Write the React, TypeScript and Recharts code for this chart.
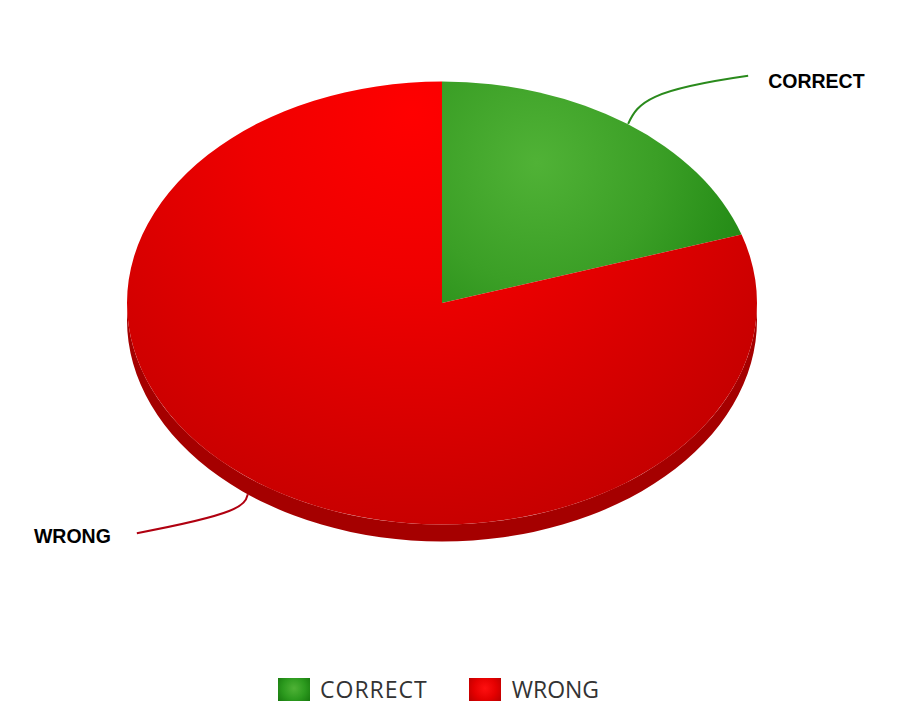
import React from 'react';
import { PieChart, Pie, Legend } from 'recharts';

const categories = ['CORRECT', 'WRONG'];
const values = [20, 80];
const data = categories.map((name, i) => ({ name, value: values[i] }));

const W = 903;
const H = 715;
const CX = 442;
const CY = 303;
const R = 315;
const RATIO = 0.703;
const DEPTH = 17;

const rad = Math.PI / 180;
const pt = (cx: number, cy: number, rx: number, ry: number, a: number) => ({
  x: cx + rx * Math.cos(a * rad),
  y: cy - ry * Math.sin(a * rad),
});

function gradFor(name: string, cx: number, cy: number) {
  if (name === 'CORRECT') {
    return (
      <radialGradient id="g-correct" gradientUnits="userSpaceOnUse" cx={cx + 95} cy={cy - 140} r={240}>
        <stop offset="0" stopColor="#50b236" />
        <stop offset="0.5" stopColor="#3b9f26" />
        <stop offset="1" stopColor="#1e8612" />
      </radialGradient>
    );
  }
  return (
    <radialGradient id="g-wrong" gradientUnits="userSpaceOnUse" cx={cx - 30} cy={cy - 190} r={470}>
      <stop offset="0" stopColor="#ff0000" />
      <stop offset="0.35" stopColor="#ef0000" />
      <stop offset="0.75" stopColor="#d20000" />
      <stop offset="1" stopColor="#bf0000" />
    </radialGradient>
  );
}

const EllipseSector = (props: any) => {
  const { cx, cy, outerRadius, startAngle, endAngle, name, payload } = props;
  const nm = name ?? payload?.name;
  const rx = outerRadius;
  const ry = outerRadius * RATIO;
  const s = startAngle;
  const e = endAngle;
  const p1 = pt(cx, cy, rx, ry, s);
  const p2 = pt(cx, cy, rx, ry, e);
  const large = Math.abs(s - e) > 180 ? 1 : 0;
  const sweep = s > e ? 1 : 0;
  const top = `M${cx},${cy} L${p1.x},${p1.y} A${rx},${ry} 0 ${large} ${sweep} ${p2.x},${p2.y} Z`;
  const lo = Math.min(s, e);
  const hi = Math.max(s, e);
  const rims: string[] = [];
  for (let k = -2; k <= 2; k++) {
    const a0 = Math.max(lo, -180 + 360 * k);
    const a1 = Math.min(hi, 360 * k);
    if (a1 - a0 > 0.01) {
      const q1 = pt(cx, cy, rx, ry, a1);
      const q0 = pt(cx, cy, rx, ry, a0);
      rims.push(
        `M${q1.x},${q1.y} A${rx},${ry} 0 0 1 ${q0.x},${q0.y} L${q0.x},${q0.y + DEPTH} A${rx},${ry} 0 0 0 ${q1.x},${q1.y + DEPTH} Z`
      );
    }
  }
  const id = nm === 'CORRECT' ? 'g-correct' : 'g-wrong';
  const rimColor = nm === 'CORRECT' ? '#17700e' : '#a50000';
  return (
    <g>
      <defs>{gradFor(nm, cx, cy)}</defs>
      {rims.map((d, i) => (
        <path key={i} d={d} fill={rimColor} stroke="none" />
      ))}
      <path d={top} fill={`url(#${id})`} stroke="none" />
    </g>
  );
};

const renderLabel = (props: any) => {
  const { cx, cy, midAngle, outerRadius, name } = props;
  const rx = outerRadius;
  const ry = outerRadius * RATIO;
  const p = pt(cx, cy, rx, ry, midAngle);
  const right = Math.cos(midAngle * rad) >= 0;
  const lower = Math.sin(midAngle * rad) < 0;
  const sy = p.y + (lower ? DEPTH - 5 : 0);
  const sx = p.x + (lower ? -9 : 1);
  let d: string;
  let tx: number;
  let ty: number;
  const color = name === 'CORRECT' ? '#2a8a1c' : '#b00010';
  if (right) {
    const ex = sx + 120;
    const ey = sy - 48;
    d = `M${sx},${sy} C${sx + 10},${sy - 22} ${sx + 22},${sy - 34} ${ex},${ey}`;
    tx = ex + 20;
    ty = ey + 12;
  } else {
    const ex = sx - 111;
    const ey = sy + 39;
    d = `M${sx},${sy} C${sx - 3},${sy + 12} ${sx - 10},${sy + 20} ${ex},${ey}`;
    tx = ex - 26;
    ty = ey + 10;
  }
  return (
    <g>
      <path d={d} stroke={color} strokeWidth={2} fill="none" />
      <text
        x={tx}
        y={ty}
        textAnchor={right ? 'start' : 'end'}
        fontFamily="Liberation Sans, Arial, sans-serif"
        fontWeight="bold"
        fontSize={19.5}
        fill="#000"
      >
        {name}
      </text>
    </g>
  );
};

const legendBg: Record<string, string> = {
  CORRECT: 'radial-gradient(circle at 50% 45%, #4fb236 0%, #2c9a1e 55%, #17780e 100%)',
  WRONG: 'radial-gradient(circle at 50% 45%, #ff1010 0%, #e40000 55%, #b80000 100%)',
};

const renderLegend = () => (
  <div style={{ display: 'flex', alignItems: 'center', paddingLeft: 278, width: W, boxSizing: 'border-box' }}>
    {categories.map((c, i) => (
      <div key={c} style={{ display: 'flex', alignItems: 'center', marginLeft: i === 0 ? 0 : 41 }}>
        <div style={{ width: 32, height: 23, background: legendBg[c] }} />
        <span
          style={{
            marginLeft: i === 0 ? 10 : 11,
            fontFamily: 'Open Sans, sans-serif',
            fontSize: 23,
            color: '#333',
            letterSpacing: i === 0 ? 1 : 0,
          }}
        >
          {c}
        </span>
      </div>
    ))}
  </div>
);

export default function App() {
  return (
    <div style={{ position: 'absolute', left: 0, top: 0, width: W, height: H, background: '#fff' }}>
      <PieChart width={W} height={H} margin={{ top: 0, right: 0, bottom: 0, left: 0 }}>
        <Pie
          data={data}
          dataKey="value"
          nameKey="name"
          cx={CX}
          cy={CY}
          outerRadius={R}
          startAngle={90}
          endAngle={-270}
          isAnimationActive={false}
          stroke="none"
          shape={EllipseSector}
          activeShape={EllipseSector}
          inactiveShape={EllipseSector}
          label={renderLabel}
          labelLine={false}
        />
        <Legend
          content={renderLegend}
          wrapperStyle={{ position: 'absolute', left: 0, top: 673, width: W }}
        />
      </PieChart>
    </div>
  );
}
